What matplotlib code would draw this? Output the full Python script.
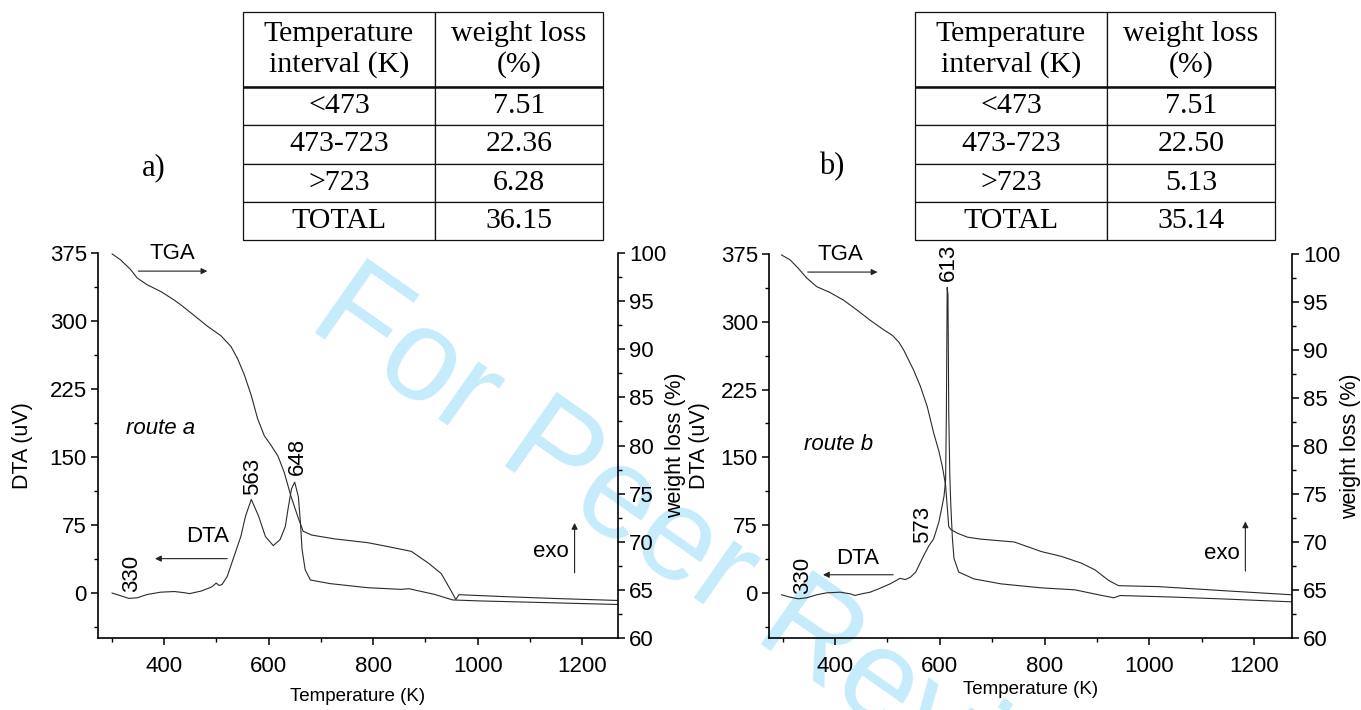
import numpy as np
import matplotlib.pyplot as plt
from matplotlib.ticker import MultipleLocator

plt.rcParams['font.family'] = ['Liberation Sans', 'DejaVu Sans']

# ---- route a : TGA (weight %, right axis) and DTA (uV, left axis) ----
temp_tga_a = [301, 317, 336, 349, 368, 394, 420, 435, 458, 483, 509, 528, 541, 554, 567,
              579, 592, 605, 618, 630, 643, 656, 666, 682, 726, 790, 828, 873, 905, 930,
              949, 958, 964, 1050, 1150, 1268]
tga_a = [99.9, 99.3, 98.3, 97.4, 96.7, 96.0, 95.1, 94.5, 93.5, 92.4, 91.4, 90.3, 89.0, 87.3, 85.2,
         82.8, 81.0, 80.0, 78.9, 77.2, 74.7, 72.6, 71.1, 70.7, 70.3, 69.9, 69.5, 69.0, 67.8, 66.7,
         64.9, 64.0, 64.5, 64.3, 64.1, 63.9]
temp_dta_a = [301, 317, 333, 349, 368, 394, 420, 439, 449, 471, 490, 495, 500, 505, 511, 521,
              534, 547, 556, 567, 581, 594, 609, 622, 632, 638, 644, 650, 657, 661, 664, 670,
              680, 718, 790, 853, 869, 879, 917, 952, 1000, 1100, 1200, 1268]
dta_a = [-0.4, -3.3, -6.3, -5.6, -2, 0.6, 1.3, 0, -1, 1.8, 6, 8, 10.7, 8, 9, 18,
         40, 62, 84.5, 103, 84.5, 62, 52, 58.6, 73, 95, 115, 122, 106, 77, 48, 25.4,
         14, 10, 5.5, 3.7, 4.4, 3, -1.8, -8, -9, -10.5, -12, -13]

# ---- route b ----
temp_tga_b = [298, 314, 330, 346, 365, 390, 416, 441, 467, 493, 510, 522, 531, 540, 550, 563, 576, 588,
              598, 605, 611, 617, 621, 634, 653, 678, 742, 794, 832, 870, 896, 922, 941, 1018,
              1150, 1272]
tga_b = [99.9, 99.4, 98.5, 97.5, 96.6, 96.0, 95.2, 94.2, 93.1, 92.1, 91.5, 90.8, 90.0, 89.0, 87.9, 86.2, 84.1, 81.4,
         79.5, 77.8, 75.9, 71.6, 71.3, 70.9, 70.5, 70.3, 70.0, 69.0, 68.5, 67.8, 67.1, 66.0, 65.45, 65.35,
         64.9, 64.5]
temp_dta_b = [298, 314, 330, 346, 365, 384, 410, 429, 438, 451, 467, 486, 505, 524, 534, 544,
              554, 569, 579, 588, 598, 604, 608, 611, 612.5, 614, 615.5, 617, 619, 621, 624, 627,
              636, 665, 717, 755, 794, 858, 903, 932, 944, 1050, 1150, 1272]
dta_b = [-2.2, -4.8, -6.6, -5.5, -2.2, 0, 0.7, -1.1, -2.9, -1.1, 0.7, 5.1, 9.9, 16, 14.7, 17.3,
         23, 41, 52, 59.5, 78, 95, 107, 125, 200, 338, 330, 200, 130, 96, 60, 38,
         23, 15.4, 9.9, 7.7, 5.5, 3.3, -2.2, -5.5, -3, -4.8, -7, -10]

# ---- weight loss tables ----
table_header = ['Temperature\ninterval (K)', 'weight loss\n(%)']
intervals = ['<473', '473-723', '>723', 'TOTAL']
loss_a = ['7.51', '22.36', '6.28', '36.15']
loss_b = ['7.51', '22.50', '5.13', '35.14']

line_color = '#2b2b2b'
W, H = 1361, 710
fig = plt.figure(figsize=(W / 100, H / 100), dpi=100)


def px(x0, y0, x1, y1):
    # pixel box (left, top, right, bottom) -> figure fraction rect
    return [x0 / W, 1 - y1 / H, (x1 - x0) / W, (y1 - y0) / H]


def arrow(ax, start, end):
    ax.annotate('', xy=end, xytext=start,
                arrowprops=dict(arrowstyle='-|>', lw=0.8, color='#222222',
                                mutation_scale=9, shrinkA=0, shrinkB=0))


def draw_panel(rect, xlim, t_tga, tga, t_dta, dta, lab_left, lab_right, lab_bottom):
    ax = fig.add_axes(rect)
    ax.patch.set_visible(False)
    ax2 = ax.twinx()
    ax2.patch.set_visible(False)

    ax.plot(t_dta, dta, color=line_color, lw=0.8)
    ax2.plot(t_tga, tga, color=line_color, lw=0.8)

    ax.set_xlim(*xlim)
    ax.set_ylim(-50, 375)
    ax2.set_ylim(60, 100)

    ax.xaxis.set_major_locator(MultipleLocator(200))
    ax.xaxis.set_minor_locator(MultipleLocator(100))
    ax.yaxis.set_major_locator(MultipleLocator(75))
    ax.yaxis.set_minor_locator(MultipleLocator(37.5))
    ax2.yaxis.set_major_locator(MultipleLocator(5))
    ax2.yaxis.set_minor_locator(MultipleLocator(2.5))

    for a in (ax, ax2):
        a.tick_params(which='major', direction='out', length=5, width=1.1, labelsize=16)
        a.tick_params(which='minor', direction='out', length=3, width=1.0)
    ax.tick_params(axis='x', pad=8)
    ax.tick_params(axis='y', pad=3)
    ax2.tick_params(axis='y', pad=3)

    ax.spines['top'].set_visible(False)
    ax.spines['right'].set_visible(False)
    for s in ('top', 'left', 'bottom'):
        ax2.spines[s].set_visible(False)
    for s in ax.spines.values():
        s.set_linewidth(1.2)
    ax2.spines['right'].set_linewidth(1.2)

    ax.set_xlabel('Temperature (K)', fontsize=13.5)
    ax.xaxis.set_label_coords(0.5, lab_bottom)
    ax.set_ylabel('DTA (uV)', fontsize=15.5)
    ax.yaxis.set_label_coords(lab_left, 0.5)
    ax2.set_ylabel('weight loss (%)', fontsize=15.5)
    ax2.yaxis.set_label_coords(lab_right, 0.5)
    return ax


def draw_table(rect, values, tag, tag_xy):
    tax = fig.add_axes(rect)
    tax.axis('off')
    cells = [[intervals[i], values[i]] for i in range(len(intervals))]
    tbl = tax.table(cellText=cells, colLabels=table_header, cellLoc='center',
                    colWidths=[0.533, 0.467], bbox=[0, 0, 1, 1])
    tbl.auto_set_font_size(False)
    heights = [75, 38, 38.5, 38.5, 38]
    for (r, c), cell in tbl.get_celld().items():
        cell.set_height(heights[r])
        cell.set_linewidth(0.9)
        cell.set_edgecolor('#111111')
        cell.set_facecolor('white')
        txt = cell.get_text()
        txt.set_fontfamily(['Liberation Serif', 'DejaVu Serif'])
        txt.set_fontsize(21.5)
        txt.set_linespacing(1.2)
    # heavier rule under the header
    tax.axhline(1 - 75 / 228.0, color='#111111', lw=1.8)
    fig.text(tag_xy[0] / W, 1 - tag_xy[1] / H, tag, fontsize=22,
             family=['Liberation Serif', 'DejaVu Serif'], ha='center', va='center')


# panel a
ax_a = draw_panel(px(98, 253, 618, 638), (274, 1268), temp_tga_a, tga_a, temp_dta_a, dta_a,
                  -0.125, 1.09, -0.13)
ax_a.text(417, 374, 'TGA', fontsize=16, ha='center', va='center')
arrow(ax_a, (351, 355), (483, 355))
ax_a.text(483, 62, 'DTA', fontsize=16, ha='center', va='center')
arrow(ax_a, (521, 37.6), (383, 37.6))
ax_a.text(339, 21, '330', fontsize=16, rotation=90, ha='center', va='center')
ax_a.text(393, 181, 'route a', fontsize=16, style='italic', ha='center', va='center')
ax_a.text(569, 128, '563', fontsize=16, rotation=90, ha='center', va='center')
ax_a.text(655, 150, '648', fontsize=16, rotation=90, ha='center', va='center')
ax_a.text(1139, 45, 'exo', fontsize=16, ha='center', va='center')
arrow(ax_a, (1185, 22), (1185, 77))

# panel b
ax_b = draw_panel(px(769, 254, 1292, 638), (274, 1272), temp_tga_b, tga_b, temp_dta_b, dta_b,
                  -0.112, 1.092, -0.113)
ax_b.text(410, 375, 'TGA', fontsize=16, ha='center', va='center')
arrow(ax_b, (348, 355), (481, 355))
ax_b.text(444, 37.5, 'DTA', fontsize=16, ha='center', va='center')
arrow(ax_b, (511, 20), (377, 20))
ax_b.text(339, 19, '330', fontsize=16, rotation=90, ha='center', va='center')
ax_b.text(406, 164, 'route b', fontsize=16, style='italic', ha='center', va='center')
ax_b.text(567, 76, '573', fontsize=16, rotation=90, ha='center', va='center')
ax_b.text(617, 366, '613', fontsize=16, rotation=90, ha='center', va='center')
ax_b.text(1139, 44, 'exo', fontsize=16, ha='center', va='center')
arrow(ax_b, (1183, 24), (1183, 79))

# tables
draw_table(px(243, 12, 603, 240), loss_a, 'a)', (154, 168))
draw_table(px(915, 12, 1275, 240), loss_b, 'b)', (832, 167))

# review watermark, behind everything
fig.text(723 / W, 1 - 577 / H, 'For Peer Review', fontsize=94, color='#c6ebfb',
         rotation=-35, rotation_mode='anchor', ha='center', va='center', zorder=-1)

fig.savefig('out.png', dpi=100)
